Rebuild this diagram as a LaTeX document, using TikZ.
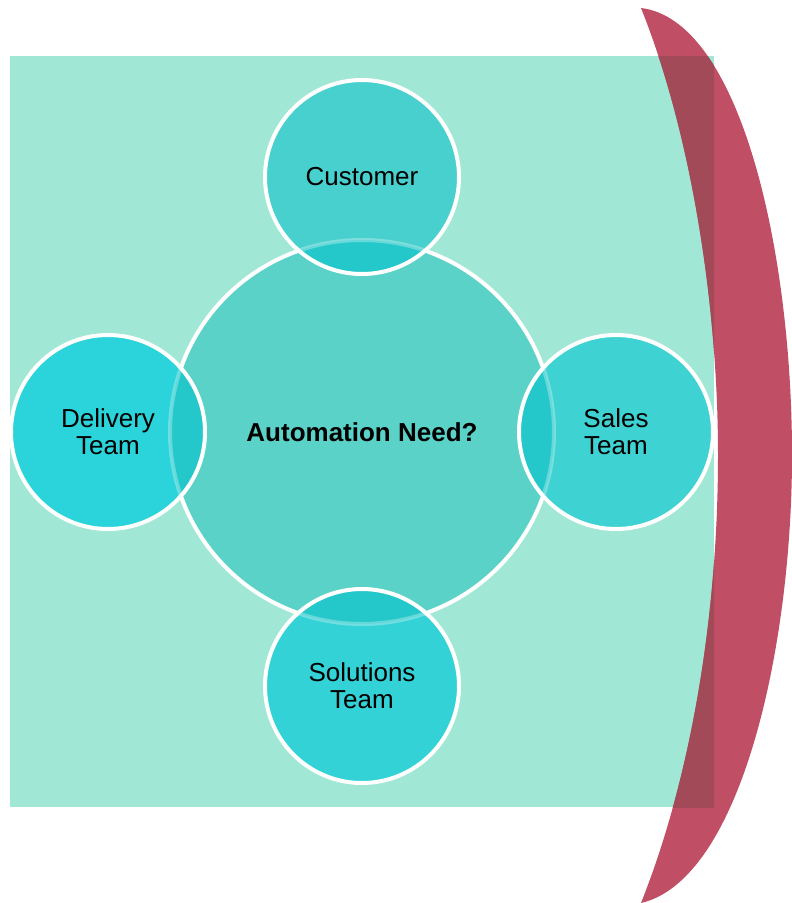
\documentclass[tikz,border=0pt]{standalone}
\usepackage{fontspec}
\setmainfont{Liberation Sans}
\definecolor{mint}{HTML}{A0E8D5}
\definecolor{crim}{HTML}{C04E64}
\definecolor{crimdark}{HTML}{A24A58}
\definecolor{bigfill}{HTML}{5AD2C8}
\definecolor{custfill}{HTML}{48D0CE}
\definecolor{delfill}{HTML}{2AD4DA}
\definecolor{salesfill}{HTML}{3ED2D2}
\definecolor{solfill}{HTML}{32D2D6}
\definecolor{ovfill}{HTML}{24C8CA}
\begin{document}
\begin{tikzpicture}[x=1pt,y=-1pt,
  lbl/.style={align=center,font=\fontsize{26}{27}\selectfont,text=black},
  ring/.style={draw=white,line width=4pt}]
\useasboundingbox (0,0) rectangle (792,903);
\fill[white] (0,0) rectangle (792,903);
% teal panel
\fill[mint] (10,56) rectangle (714,807);
% crescent
\def\cres{(641,8) .. controls (740,20) and (792,250) .. (792,455) .. controls (792,650) and (740,880) .. (641,903) .. controls (690,780) and (718,620) .. (718,455) .. controls (718,300) and (690,130) .. (641,8) -- cycle}
\fill[crim] \cres;
\begin{scope}
  \clip (10,56) rectangle (714,807);
  \fill[crimdark] \cres;
\end{scope}
% centres
\coordinate (big) at (362,432);
\coordinate (cust) at (362,177);
\coordinate (del) at (108,432);
\coordinate (sales) at (616,432);
\coordinate (sol) at (362,686);
% big circle
\fill[bigfill] (big) circle[radius=192pt];
\draw[ring] (big) circle[radius=192pt];
% small circles
\foreach \c/\f in {cust/custfill,del/delfill,sales/salesfill,sol/solfill}{
  \fill[\f] (\c) circle[radius=97pt];
  \begin{scope}
    \clip (big) circle[radius=192pt];
    \fill[ovfill] (\c) circle[radius=97pt];
  \end{scope}
  \begin{scope}
    \clip (\c) circle[radius=97pt];
    \draw[white,opacity=0.3,line width=4pt] (big) circle[radius=192pt];
  \end{scope}
  \draw[ring] (\c) circle[radius=97pt];
}
% labels
\node[lbl,font=\fontsize{26}{27}\selectfont\bfseries] (tbig) at (big) {Automation Need?};
\node[lbl] (tcust) at (cust) {Customer};
\node[lbl] (tdel) at (del) {Delivery\\Team};
\node[lbl] (tsales) at (sales) {Sales\\Team};
\node[lbl] (tsol) at (sol) {Solutions\\Team};
\end{tikzpicture}
\end{document}
